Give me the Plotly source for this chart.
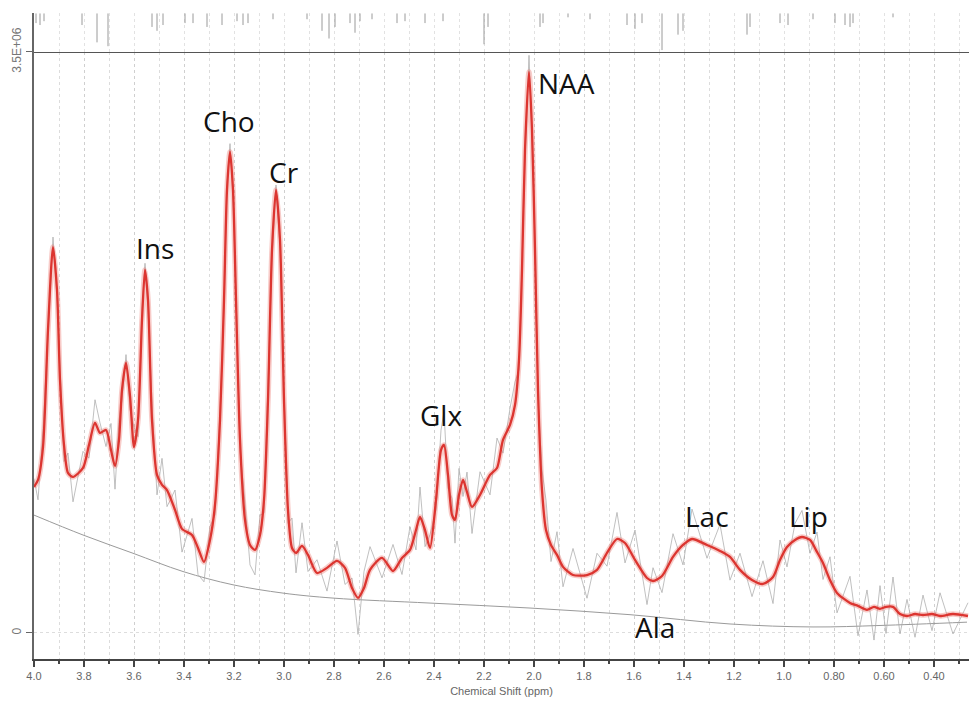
import plotly.graph_objects as go

# ---------------- data (intensity in units of 1e6) ----------------
FIT_PPM = [4.000, 3.984, 3.964, 3.944, 3.924, 3.908, 3.896, 3.880, 3.864, 3.844,
           3.804, 3.780, 3.756, 3.736, 3.712, 3.692, 3.676, 3.660, 3.648, 3.632,
           3.616, 3.600, 3.584, 3.568, 3.556, 3.544, 3.528, 3.508, 3.488, 3.468,
           3.436, 3.408, 3.368, 3.344, 3.320, 3.296, 3.276, 3.256, 3.240, 3.228,
           3.216, 3.204, 3.192, 3.176, 3.156, 3.136, 3.116, 3.096, 3.080, 3.064,
           3.048, 3.032, 3.016, 3.000, 2.984, 2.968, 2.952, 2.928, 2.904, 2.868,
           2.828, 2.788, 2.756, 2.728, 2.704, 2.680, 2.656, 2.608, 2.564, 2.528,
           2.496, 2.472, 2.456, 2.436, 2.416, 2.392, 2.372, 2.360, 2.344, 2.328,
           2.316, 2.300, 2.284, 2.268, 2.248, 2.216, 2.176, 2.148, 2.124, 2.096,
           2.076, 2.060, 2.048, 2.036, 2.020, 2.008, 1.996, 1.984, 1.968, 1.952,
           1.932, 1.908, 1.884, 1.844, 1.788, 1.748, 1.708, 1.668, 1.636, 1.596,
           1.548, 1.524, 1.488, 1.444, 1.404, 1.368, 1.308, 1.256, 1.216, 1.176,
           1.128, 1.084, 1.044, 1.016, 0.988, 0.956, 0.928, 0.896, 0.868, 0.844,
           0.816, 0.788, 0.736, 0.704, 0.668, 0.640, 0.616, 0.592, 0.564, 0.536,
           0.508, 0.476, 0.444, 0.408, 0.376, 0.324, 0.264]
FIT_VAL = [0.880, 0.922, 1.120, 1.825, 2.325, 2.066, 1.524, 1.133, 0.964, 0.940,
           0.994, 1.133, 1.265, 1.205, 1.223, 1.102, 1.006, 1.163, 1.464, 1.627,
           1.428, 1.120, 1.283, 1.886, 2.187, 2.006, 1.283, 0.952, 0.892, 0.861,
           0.741, 0.627, 0.590, 0.512, 0.428, 0.560, 0.771, 1.283, 2.006, 2.669,
           2.898, 2.669, 2.006, 1.163, 0.681, 0.530, 0.500, 0.590, 0.801, 1.404,
           2.307, 2.669, 2.367, 1.404, 0.741, 0.512, 0.482, 0.524, 0.470, 0.361,
           0.392, 0.434, 0.392, 0.271, 0.211, 0.271, 0.380, 0.452, 0.373, 0.452,
           0.500, 0.620, 0.699, 0.620, 0.512, 0.801, 1.102, 1.133, 0.952, 0.711,
           0.681, 0.831, 0.922, 0.849, 0.759, 0.831, 0.952, 0.994, 1.163, 1.253,
           1.373, 1.645, 2.187, 2.910, 3.380, 3.030, 2.307, 1.464, 0.861, 0.620,
           0.530, 0.470, 0.398, 0.349, 0.349, 0.380, 0.482, 0.566, 0.542, 0.440,
           0.331, 0.313, 0.343, 0.458, 0.530, 0.566, 0.530, 0.494, 0.458, 0.380,
           0.319, 0.295, 0.337, 0.440, 0.518, 0.560, 0.578, 0.560, 0.488, 0.422,
           0.319, 0.241, 0.181, 0.163, 0.139, 0.157, 0.145, 0.157, 0.157, 0.114,
           0.102, 0.114, 0.108, 0.114, 0.102, 0.114, 0.102]
# raw-minus-fit offsets read at each fit position (units of 1e6)
RAW_RESID = [0.05, -0.12, 0.10, -0.05, 0.06, -0.04, 0.08, -0.10, 0.12, -0.15,
             0.10, -0.08, 0.14, 0.06, -0.10, 0.16, -0.14, 0.12, -0.06, 0.05,
             -0.08, 0.12, -0.10, 0.06, 0.04, -0.05, 0.10, -0.12, 0.16, -0.10,
             0.12, -0.14, 0.10, -0.16, -0.12, 0.08, -0.06, 0.05, -0.04, 0.03,
             0.05, -0.03, 0.04, -0.06, 0.10, -0.12, -0.15, 0.12, -0.08, 0.05,
             -0.04, 0.03, -0.04, 0.06, -0.08, 0.18, -0.12, 0.14, -0.10, 0.08,
             -0.14, 0.12, -0.10, 0.06, -0.22, 0.10, 0.14, -0.12, 0.16, -0.10,
             0.14, -0.12, 0.18, -0.10, 0.08, -0.06, 0.12, 0.20, -0.08, 0.10,
             -0.14, 0.16, -0.10, 0.12, -0.16, 0.14, -0.12, 0.18, -0.08, 0.10,
             0.14, -0.06, 0.05, -0.04, 0.10, -0.03, 0.05, -0.06, 0.12, 0.18,
             -0.10, 0.14, -0.12, 0.16, -0.14, 0.10, -0.08, 0.16, -0.12, 0.18,
             -0.16, 0.08, -0.10, 0.14, -0.12, 0.18, -0.08, 0.16, -0.14, 0.10,
             -0.10, 0.14, -0.16, 0.12, -0.12, 0.10, 0.16, -0.08, 0.12, -0.10,
             0.14, -0.12, 0.16, -0.18, 0.12, -0.20, 0.14, -0.16, 0.18, -0.12,
             0.10, -0.14, 0.12, -0.10, 0.14, -0.12, 0.08]

BASE_PPM = [4.000, 3.804, 3.604, 3.404, 3.204, 3.004, 2.804, 2.416, 2.016,
            1.616, 1.216, 0.884, 0.616, 0.268]
BASE_VAL = [0.71, 0.59, 0.48, 0.37, 0.29, 0.24, 0.21, 0.18, 0.15,
            0.11, 0.054, 0.036, 0.045, 0.065]

# residual sticks in the top strip (depth, arbitrary units)
TOP_PPM = [3.992, 3.976, 3.960, 3.808, 3.748, 3.704, 3.528, 3.508, 3.484, 3.396,
           3.364, 3.308, 3.248, 3.188, 3.164, 3.144, 3.044, 2.908, 2.848, 2.820,
           2.796, 2.736, 2.716, 2.696, 2.648, 2.548, 2.516, 2.436, 2.364, 2.200,
           2.184, 1.976, 1.964, 1.864, 1.776, 1.628, 1.596, 1.568, 1.488, 1.424,
           1.404, 1.148, 1.136, 1.016, 0.984, 0.884, 0.796, 0.756, 0.736, 0.724,
           0.564]
TOP_DEPTH = [10, 12, 8, 12, 30, 34, 14, 18, 12, 10,
             10, 14, 12, 8, 12, 10, 6, 6, 18, 26,
             14, 10, 20, 8, 6, 10, 8, 10, 8, 32,
             14, 14, 10, 4, 6, 12, 16, 10, 38, 22,
             18, 22, 14, 10, 12, 6, 10, 12, 14, 10,
             4]

X_TICKS = [4.0, 3.8, 3.6, 3.4, 3.2, 3.0, 2.8, 2.6, 2.4, 2.2, 2.0, 1.8, 1.6,
           1.4, 1.2, 1.0, 0.8, 0.6, 0.4]
X_TICKTEXT = ["4.0", "3.8", "3.6", "3.4", "3.2", "3.0", "2.8", "2.6", "2.4",
              "2.2", "2.0", "1.8", "1.6", "1.4", "1.2", "1.0", "0.80", "0.60",
              "0.40"]
Y_TICKS = [0, 3.5e6]
Y_TICKTEXT = ["0", "3.5E+06"]

LABELS = ["Ins", "Cho", "Cr", "NAA", "Glx", "Lac", "Lip", "Ala"]
LABEL_PPM = [3.516, 3.220, 3.000, 1.872, 2.372, 1.308, 0.904, 1.516]
LABEL_VAL = [2.319, 3.084, 2.777, 3.313, 1.313, 0.705, 0.705, 0.036]

SCALE = 1e6
fit_y = [v * SCALE for v in FIT_VAL]
raw_y = [(v + r) * SCALE for v, r in zip(FIT_VAL, RAW_RESID)]
base_y = [v * SCALE for v in BASE_VAL]

stick_x, stick_y = [], []
for p, d in zip(TOP_PPM, TOP_DEPTH):
    stick_x += [p, p, None]
    stick_y += [0, -d, None]

fig = go.Figure()
fig.add_trace(go.Scatter(x=BASE_PPM, y=base_y, mode="lines",
                         line=dict(color="#9a9a9a", width=1, shape="spline"),
                         hoverinfo="skip"))
fig.add_trace(go.Scatter(x=FIT_PPM, y=raw_y, mode="lines",
                         line=dict(color="rgba(165,165,165,0.7)", width=1),
                         hoverinfo="skip"))
fig.add_trace(go.Scatter(x=FIT_PPM, y=fit_y, mode="lines",
                         line=dict(color="rgba(235,110,100,0.35)", width=5.5,
                                   shape="spline", smoothing=0.7),
                         hoverinfo="skip"))
fig.add_trace(go.Scatter(x=FIT_PPM, y=fit_y, mode="lines",
                         line=dict(color="#dc3530", width=2.3,
                                   shape="spline", smoothing=0.7)))
fig.add_trace(go.Scatter(x=stick_x, y=stick_y, mode="lines",
                         line=dict(color="#9a9a9a", width=1),
                         xaxis="x2", yaxis="y2", hoverinfo="skip"))

for t, p, v in zip(LABELS, LABEL_PPM, LABEL_VAL):
    fig.add_annotation(x=p, y=v * SCALE, text=t, showarrow=False,
                       font=dict(family="Open Sans", size=28, color="#111"))

main_top = 0.9211
fig.update_layout(
    width=969, height=704,
    margin=dict(l=34, r=0, t=0, b=45, autoexpand=False),
    paper_bgcolor="white", plot_bgcolor="white",
    showlegend=False,
    xaxis=dict(range=[4.0, 0.26], tickvals=X_TICKS, ticktext=X_TICKTEXT,
               showline=True, linecolor="#444", linewidth=2,
               ticks="outside", ticklen=6, tickwidth=1.5, tickcolor="#444",
               tickfont=dict(family="Liberation Sans", size=11, color="#666"),
               showgrid=True, gridcolor="#cfcfcf", griddash="dot", gridwidth=1,
               minor=dict(dtick=0.1, tick0=0, ticks="outside", ticklen=3,
                          tickcolor="#444", showgrid=True, gridcolor="#dcdcdc",
                          griddash="dot"),
               zeroline=False, anchor="y", automargin=False,
               title=dict(text="Chemical Shift (ppm)", standoff=6,
                          font=dict(family="Liberation Sans", size=11,
                                    color="#666"))),
    yaxis=dict(domain=[0, main_top], range=[-0.157e6, 3.5e6],
               tickvals=Y_TICKS, ticktext=Y_TICKTEXT, tickangle=-90,
               showline=True, linecolor="#666", linewidth=2,
               ticks="outside", ticklen=6, tickcolor="#666",
               tickfont=dict(family="Liberation Sans", size=12, color="#777"),
               showgrid=True, gridcolor="#dddddd", griddash="dot",
               zeroline=False, automargin=False),
    xaxis2=dict(matches="x", anchor="y2", showticklabels=False,
                showline=False, ticks="", showgrid=True, gridcolor="#e2e2e2",
                griddash="dot", dtick=0.1, tick0=0, zeroline=False,
                automargin=False),
    yaxis2=dict(domain=[main_top, 0.9803], range=[-40, 0.5],
                showline=True, linecolor="#666", linewidth=2,
                showticklabels=False, ticks="", showgrid=False,
                zeroline=False, automargin=False),
)
fig.add_shape(type="line", xref="paper", yref="y", x0=0, x1=1,
              y0=3.5e6, y1=3.5e6, line=dict(color="#555", width=2))

fig.write_html("out.html")
